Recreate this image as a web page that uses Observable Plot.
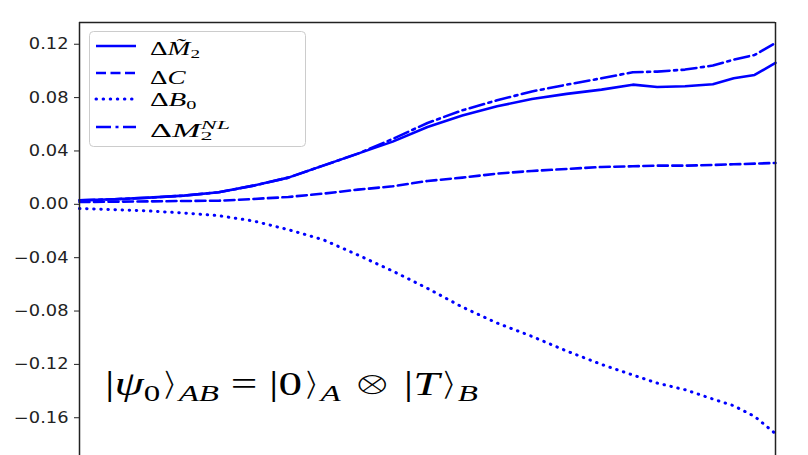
<!DOCTYPE html>
<html><head><meta charset="utf-8">
<script src="https://cdn.jsdelivr.net/npm/d3@7"></script>
<script src="https://cdn.jsdelivr.net/npm/@observablehq/plot@0.6"></script>
<style>html,body{margin:0;padding:0;background:#fff;overflow:hidden}</style>
</head><body><div id="chart"></div>
<script>
// x positions (percent of the horizontal axis span)
const t     = [0, 5, 10, 15, 20, 25, 30, 35, 40, 45, 50, 55, 60, 65, 70, 75, 79.5, 83, 87, 91, 94, 97, 100];
// ΔM̃2 (solid)
const dM2   = [0.003, 0.0038, 0.005, 0.0065, 0.009, 0.014, 0.020, 0.029, 0.038, 0.047, 0.058, 0.0665, 0.0735, 0.079, 0.0828, 0.086, 0.0897, 0.088, 0.0885, 0.090, 0.0945, 0.097, 0.106];
// ΔC (dashed)
const dC    = [0.0017, 0.002, 0.0022, 0.0025, 0.0027, 0.004, 0.0055, 0.008, 0.011, 0.0135, 0.0175, 0.0200, 0.023, 0.025, 0.0265, 0.028, 0.0285, 0.029, 0.029, 0.0295, 0.030, 0.0305, 0.031];
// ΔB0 (dotted)
const dB0   = [-0.0032, -0.004, -0.005, -0.0065, -0.0085, -0.0125, -0.019, -0.0265, -0.038, -0.050, -0.063, -0.077, -0.089, -0.099, -0.110, -0.120, -0.128, -0.134, -0.139, -0.146, -0.151, -0.159, -0.172];
// ΔM2^NL (dash-dot)
const dM2NL = [0.003, 0.0038, 0.005, 0.0065, 0.009, 0.014, 0.020, 0.029, 0.038, 0.049, 0.061, 0.0705, 0.078, 0.0846, 0.0897, 0.0945, 0.099, 0.0995, 0.101, 0.104, 0.1085, 0.112, 0.121];
const yTicks = [0.12, 0.08, 0.04, 0.00, -0.04, -0.08, -0.12, -0.16];
const yDomain = [-0.1883, 0.1363];
const xDomain = [0, 100];

const dashes = {solid: null, dashed: "10,4.5", dotted: "0.5,6.6", dashdot: "15,4.5,3,4.5"};
const rows = arr => t.map((x, i) => ({t: x, v: arr[i]}));
const blue = "#0000ff";

const chart = Plot.plot({
  width: 808, height: 455,
  marginLeft: 79, marginRight: 33, marginTop: 22, marginBottom: 0,
  style: {fontFamily: "'DejaVu Sans', sans-serif", fontSize: "15.5px", color: "#222", background: "#fff", overflow: "visible"},
  x: {domain: xDomain, axis: null},
  y: {domain: yDomain, ticks: yTicks, tickFormat: d3.format(".2f"), tickSize: 5, tickPadding: 6, label: null},
  marks: [
    Plot.line(rows(dB0),   {x: "t", y: "v", stroke: blue, strokeWidth: 3, strokeDasharray: dashes.dotted, strokeLinecap: "round"}),
    Plot.line(rows(dC),    {x: "t", y: "v", stroke: blue, strokeWidth: 2.6, strokeDasharray: dashes.dashed}),
    Plot.line(rows(dM2NL), {x: "t", y: "v", stroke: blue, strokeWidth: 2.6, strokeDasharray: dashes.dashdot}),
    Plot.line(rows(dM2),   {x: "t", y: "v", stroke: blue, strokeWidth: 2.6}),
    Plot.ruleX(xDomain, {stroke: "#222", strokeWidth: 1.5}),
    Plot.ruleY([yDomain[1]], {stroke: "#222", strokeWidth: 1.5})
  ]
});
document.getElementById("chart").appendChild(chart);

const svg = d3.select(chart.tagName.toLowerCase() === "svg" ? chart : chart.querySelector("svg"));

// stretch tick labels horizontally (reference is slightly widened)
svg.selectAll("text").each(function() {
  const txt = this.textContent;
  if (!/^[−\-]?\d\.\d\d$/.test(txt)) return;
  const b = this.getBBox();
  const r = b.x + b.width;
  const tr = this.getAttribute("transform") || "";
  this.setAttribute("transform", `${tr} translate(${r},0) scale(1.15,1) translate(${-r},0)`);
});

function mathText(parent, x, y, size, parts, targetWidth) {
  const g = parent.append("g").attr("transform", `translate(${x},${y})`);
  const tx = g.append("text").attr("font-family", "'Liberation Serif', 'DejaVu Serif', serif")
    .attr("font-size", size).attr("fill", "#000").attr("text-anchor", "start");
  let shift = 0;
  for (const p of parts) {
    const ts = tx.append("tspan").text(p.t);
    if (p.i) ts.attr("font-style", "italic");
    if (p.sym) ts.attr("font-family", "'DejaVu Serif', serif").attr("stroke", "#fff").attr("stroke-width", 1.3);
    let target = 0, fs = size;
    if (p.sub) { target = 0.17 * size; fs = 0.7 * size; }
    if (p.sup) { target = -0.42 * size; fs = 0.7 * size; }
    ts.attr("font-size", fs).attr("dy", target - shift);
    if (p.dx) ts.attr("dx", p.dx);
    shift = target;
  }
  const b = tx.node().getBBox();
  const s = targetWidth ? targetWidth / b.width : 1;
  g.attr("transform", `translate(${x},${y}) scale(${s},1) translate(${-b.x},0)`);
  return g;
}

// legend
const leg = svg.append("g");
leg.append("rect").attr("x", 89.5).attr("y", 31.5).attr("width", 216).attr("height", 115).attr("rx", 4)
  .attr("fill", "#fff").attr("fill-opacity", 0.8).attr("stroke", "#cccccc").attr("stroke-width", 1);
const legItems = [
  {y: 46, dash: dashes.solid, w: 2.6, ty: 55, tw: 50, parts: [{t: "Δ"}, {t: "M\u0303", i: true}, {t: "2", sub: true}]},
  {y: 73, dash: dashes.dashed, w: 2.6, ty: 84, tw: 36, parts: [{t: "Δ"}, {t: "C", i: true}]},
  {y: 99, dash: dashes.dotted, w: 3, ty: 106, tw: 47, parts: [{t: "Δ"}, {t: "B", i: true}, {t: "0", sub: true}]},
  {y: 127, dash: dashes.dashdot, w: 2.6, ty: 137, tw: 80, parts: [{t: "Δ"}, {t: "M", i: true}, {t: "2", sub: true}, {t: "NL", i: true, sup: true, dx: -6.5}]}
];
for (const it of legItems) {
  leg.append("line").attr("x1", 96).attr("x2", 136).attr("y1", it.y).attr("y2", it.y)
    .attr("stroke", blue).attr("stroke-width", it.w).attr("stroke-dasharray", it.dash)
    .attr("stroke-linecap", it.dash === dashes.dotted ? "round" : "butt");
  mathText(leg, 150, it.ty, 19, it.parts, it.tw);
}

// annotation
mathText(svg, 105, 395, 33, [
  {t: "|"}, {t: "ψ", i: true}, {t: "0", sub: true}, {t: "⟩", sym: true}, {t: "AB", i: true, sub: true},
  {t: " = |0"}, {t: "⟩", sym: true}, {t: "A", i: true, sub: true}, {t: " "}, {t: "⊗", sym: true}, {t: " |"},
  {t: "T", i: true}, {t: "⟩", sym: true}, {t: "B", i: true, sub: true}
], 373);
</script>
</body></html>
